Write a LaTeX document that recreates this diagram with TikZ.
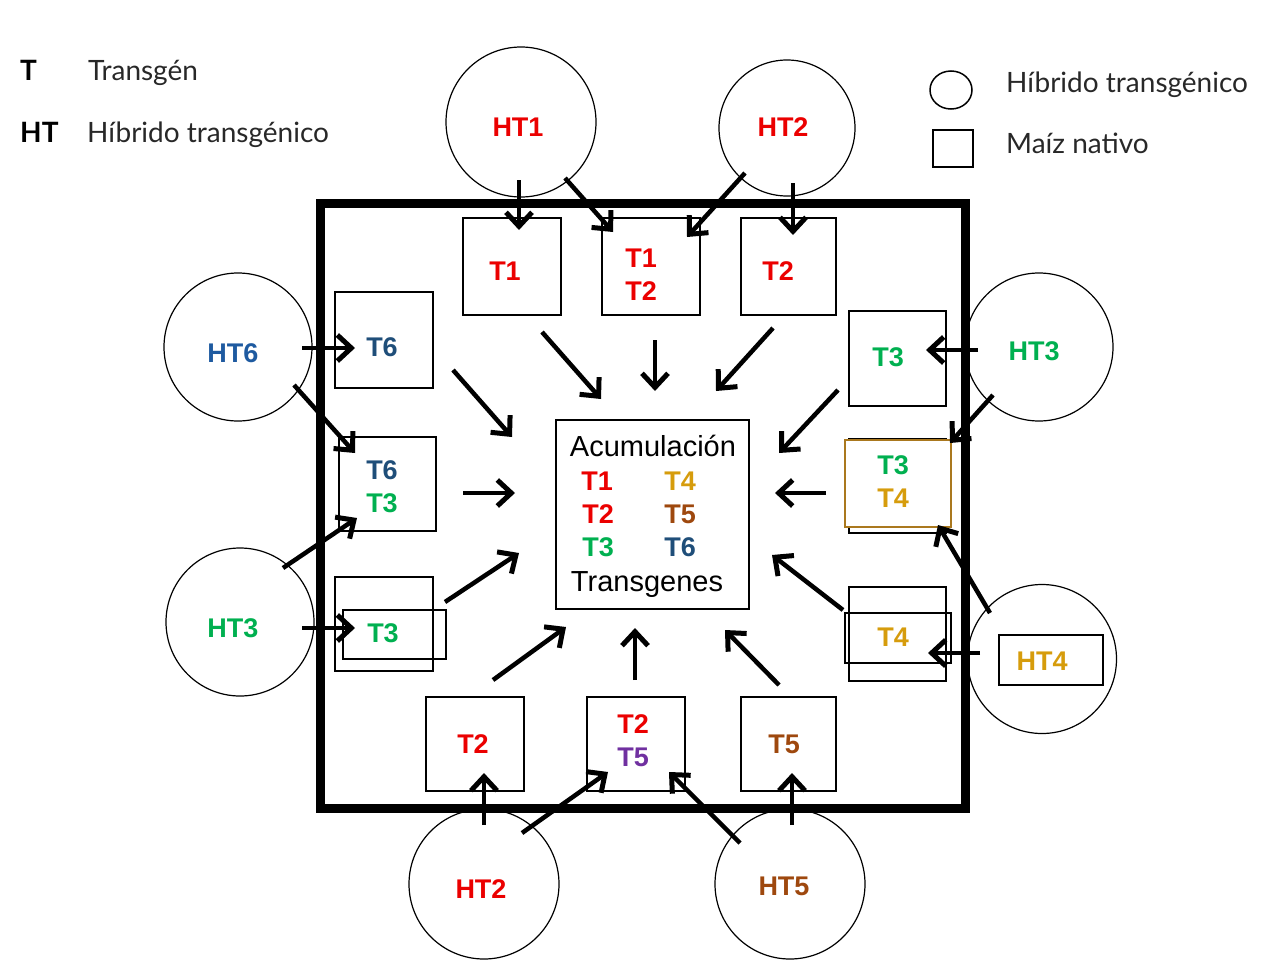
\documentclass[tikz,border=0pt]{standalone}
\usepackage{fontspec}
\setmainfont{Liberation Sans}
\newfontfamily\legfont{Lato}
\usetikzlibrary{arrows.meta,calc,shapes.geometric}
\definecolor{cred}{RGB}{235,0,0}
\definecolor{cgreen}{RGB}{0,176,80}
\definecolor{cgold}{RGB}{214,156,12}
\definecolor{cbrown}{RGB}{158,72,14}
\definecolor{cblue}{RGB}{31,78,121}
\definecolor{cblueb}{RGB}{30,90,160}
\definecolor{cpurple}{RGB}{112,48,160}
\definecolor{cgoldedge}{RGB}{170,120,30}
\definecolor{legtext}{RGB}{40,40,40}
\begin{document}
\begin{tikzpicture}[x=1pt,y=-1pt,
  ht/.style={circle, draw, line width=1.2pt, minimum size=150pt, inner sep=0pt},
  bx/.style={draw, line width=1.5pt, inner sep=0pt},
  lab/.style={font=\fontsize{27}{29}\selectfont\bfseries, inner sep=0pt},
  acc/.style={font=\fontsize{29}{32}\selectfont, inner sep=0pt, anchor=base},
  leg/.style={font=\legfont\fontsize{28}{32}\selectfont, text=legtext, inner sep=0pt, anchor=base west},
  legb/.style={font=\legfont\fontsize{28}{32}\selectfont\bfseries, text=black, inner sep=0pt, anchor=base west},
  arr/.style={line width=4.5pt, -{Straight Barb[length=14pt,width=26pt,line width=5pt]}}]
\useasboundingbox (0,0) rectangle (1266,972);

% legends
\node[legb] (lT) at (20,80) {T};
\node[leg] (lTt) at (88,80) {Transgén};
\node[legb] (lHT) at (20,142) {HT};
\node[leg] (lHTt) at (87,142) {Híbrido transgénico};
\node[draw, ellipse, line width=1.5pt, minimum width=42pt, minimum height=38pt, inner sep=0pt] (lcirc) at (951,90) {};
\node[leg] (lct) at (1006,92) {Híbrido transgénico};
\node[draw, line width=1.5pt, minimum width=40pt, minimum height=37pt, inner sep=0pt] (lsq) at (953,148.5) {};
\node[leg] (lst) at (1006,153) {Maíz nativo};

% hybrid circles
\node[ht] (HT1) at (521,122) {};
\node[ht, minimum size=136pt] (HT2a) at (787,128) {};
\node[ht, minimum size=148pt] (HT6) at (238,347) {};
\node[ht, minimum size=148pt] (HT3a) at (240,622) {};
\node[ht, minimum size=148pt] (HT3b) at (1039,347) {};
\node[ht, minimum size=149pt] (HT4c) at (1042,659) {};
\node[ht] (HT2b) at (484,884) {};
\node[ht] (HT5) at (790,884) {};
\node[draw, line width=2pt, minimum width=104pt, minimum height=50pt, inner sep=0pt] (HT4box) at (1051,660) {};

\node[lab, text=cred] (lHT1) at (518,127) {HT1};
\node[lab, text=cred] (lHT2a) at (783,127) {HT2};
\node[lab, text=cblueb] (lHT6) at (233,353) {HT6};
\node[lab, text=cgreen] (lHT3a) at (233,628) {HT3};
\node[lab, text=cgreen] (lHT3b) at (1034,351) {HT3};
\node[lab, text=cgold] (lHT4) at (1042,661) {HT4};
\node[lab, text=cred] (lHT2b) at (481,889) {HT2};
\node[lab, text=cbrown] (lHT5) at (784,886) {HT5};

% field frame
\node[draw, line width=9pt, minimum width=645pt, minimum height=605pt, inner sep=0pt] (field) at (642.5,505.5) {};

% native maize boxes
\node[bx, minimum width=98pt, minimum height=97pt] (T1) at (512,266.5) {};
\node[bx, minimum width=98pt, minimum height=97pt] (T12) at (651,266.5) {};
\node[bx, minimum width=95pt, minimum height=97pt] (T2a) at (788.5,266.5) {};
\node[bx, minimum width=98pt, minimum height=96pt] (T6) at (384,340) {};
\node[bx, minimum width=97pt, minimum height=94pt] (T63) at (387.5,484) {};
\node[bx, minimum width=98pt, minimum height=94pt] (T3L) at (384,624) {};
\node[bx, minimum width=103pt, minimum height=49pt] (T3Lf) at (394.5,634.5) {};
\node[bx, minimum width=97pt, minimum height=95pt] (T3R) at (897.5,358.5) {};
\node[bx, minimum width=97pt, minimum height=94pt] (T34) at (897.5,486) {};
\node[bx, draw=cgoldedge, fill=white, minimum width=106pt, minimum height=87pt] (T34f) at (898,483.5) {};
\node[bx, minimum width=97pt, minimum height=94pt] (T4) at (897.5,634) {};
\node[bx, minimum width=106pt, minimum height=50pt] (T4f) at (898,638) {};
\node[bx, minimum width=98pt, minimum height=94pt] (T2b) at (475,744) {};
\node[bx, minimum width=98pt, minimum height=94pt] (T25) at (636,744) {};
\node[bx, minimum width=95pt, minimum height=94pt] (T5) at (788.5,744) {};
\node[bx, minimum width=193pt, minimum height=189pt] (Acc) at (652.5,514.5) {};

% box labels
\node[lab, text=cred] at (505,271) {T1};
\node[lab, text=cred] at (641,258) {T1};
\node[lab, text=cred] at (641,291) {T2};
\node[lab, text=cred] at (778,271) {T2};
\node[lab, text=cblue] at (382,347) {T6};
\node[lab, text=cblue] at (382,470) {T6};
\node[lab, text=cgreen] at (382,503) {T3};
\node[lab, text=cgreen] at (383,633) {T3};
\node[lab, text=cgreen] at (888,357) {T3};
\node[lab, text=cgreen] at (893,465) {T3};
\node[lab, text=cgold] at (893,498) {T4};
\node[lab, text=cgold] at (893,637) {T4};
\node[lab, text=cred] at (473,744) {T2};
\node[lab, text=cred] at (633,724) {T2};
\node[lab, text=cpurple] at (633,757) {T5};
\node[lab, text=cbrown] at (784,744) {T5};

% accumulation box
\node[acc] (accT) at (653,456) {Acumulación};
\node[lab, text=cred] at (597,481) {T1};
\node[lab, text=cgold] at (680,481) {T4};
\node[lab, text=cred] at (598,514) {T2};
\node[lab, text=cbrown] at (680,514) {T5};
\node[lab, text=cgreen] at (598,547) {T3};
\node[lab, text=cblue] at (680,547) {T6};
\node[acc] (accB) at (647,591) {Transgenes};

% hybrid -> native arrows
\draw[arr] ([shift={(-2,58)}]HT1.center) -- ([shift={(7,-36.5)}]T1.center);
\draw[arr] ([shift={(44,56)}]HT1.center) -- ([shift={(-38,-34.5)}]T12.center);
\draw[arr] ([shift={(-42,45)}]HT2a.center) -- ([shift={(36,-29.5)}]T12.center);
\draw[arr] ([shift={(6,55)}]HT2a.center) -- ([shift={(4.5,-31.5)}]T2a.center);
\draw[arr] ([shift={(64,1)}]HT6.center) -- ([shift={(-29,8)}]T6.center);
\draw[arr] ([shift={(56,38)}]HT6.center) -- ([shift={(-32.5,-31)}]T63.center);
\draw[arr] ([shift={(43,-54)}]HT3a.center) -- ([shift={(-30.5,34)}]T63.center);
\draw[arr] ([shift={(62,6)}]HT3a.center) -- ([shift={(-29,4)}]T3L.center);
\draw[arr] ([shift={(-61,3)}]HT3b.center) -- ([shift={(28.5,-8.5)}]T3R.center);
\draw[arr] ([shift={(-46,48)}]HT3b.center) -- ([shift={(52.5,-43)}]T34.center);
\draw[arr] ([shift={(-52,-46)}]HT4c.center) -- ([shift={(40.5,39)}]T34.center);
\draw[arr] ([shift={(-62,-6)}]HT4c.center) -- ([shift={(30.5,19)}]T4.center);
\draw[arr] ([shift={(0,-59)}]HT2b.center) -- ([shift={(9,29)}]T2b.center);
\draw[arr] ([shift={(38,-51)}]HT2b.center) -- ([shift={(-28,28)}]T25.center);
\draw[arr] ([shift={(-50,-41)}]HT5.center) -- ([shift={(33,28)}]T25.center);
\draw[arr] ([shift={(2,-59)}]HT5.center) -- ([shift={(3.5,29)}]T5.center);

% native -> accumulation arrows
\draw[arr] ([shift={(30,65.5)}]T1.center) -- ([shift={(-51.5,-115.5)}]Acc.center);
\draw[arr] ([shift={(4,73.5)}]T12.center) -- ([shift={(2.5,-123.5)}]Acc.center);
\draw[arr] ([shift={(-15.5,61.5)}]T2a.center) -- ([shift={(63.5,-123.5)}]Acc.center);
\draw[arr] ([shift={(69,30)}]T6.center) -- ([shift={(-140.5,-77.5)}]Acc.center);
\draw[arr] ([shift={(-59.5,31.5)}]T3R.center) -- ([shift={(126.5,-61.5)}]Acc.center);
\draw[arr] ([shift={(75.5,9)}]T63.center) -- ([shift={(-137.5,-21.5)}]Acc.center);
\draw[arr] ([shift={(-71.5,7)}]T34.center) -- ([shift={(122.5,-21.5)}]Acc.center);
\draw[arr] ([shift={(61,-22)}]T3L.center) -- ([shift={(-133.5,38.5)}]Acc.center);
\draw[arr] ([shift={(-54.5,-24)}]T4.center) -- ([shift={(119.5,40.5)}]Acc.center);
\draw[arr] ([shift={(18,-64)}]T2b.center) -- ([shift={(-86.5,112.5)}]Acc.center);
\draw[arr] ([shift={(-1,-64)}]T25.center) -- ([shift={(-17.5,113.5)}]Acc.center);
\draw[arr] ([shift={(-9.5,-59)}]T5.center) -- ([shift={(72.5,115.5)}]Acc.center);
\end{tikzpicture}
\end{document}
